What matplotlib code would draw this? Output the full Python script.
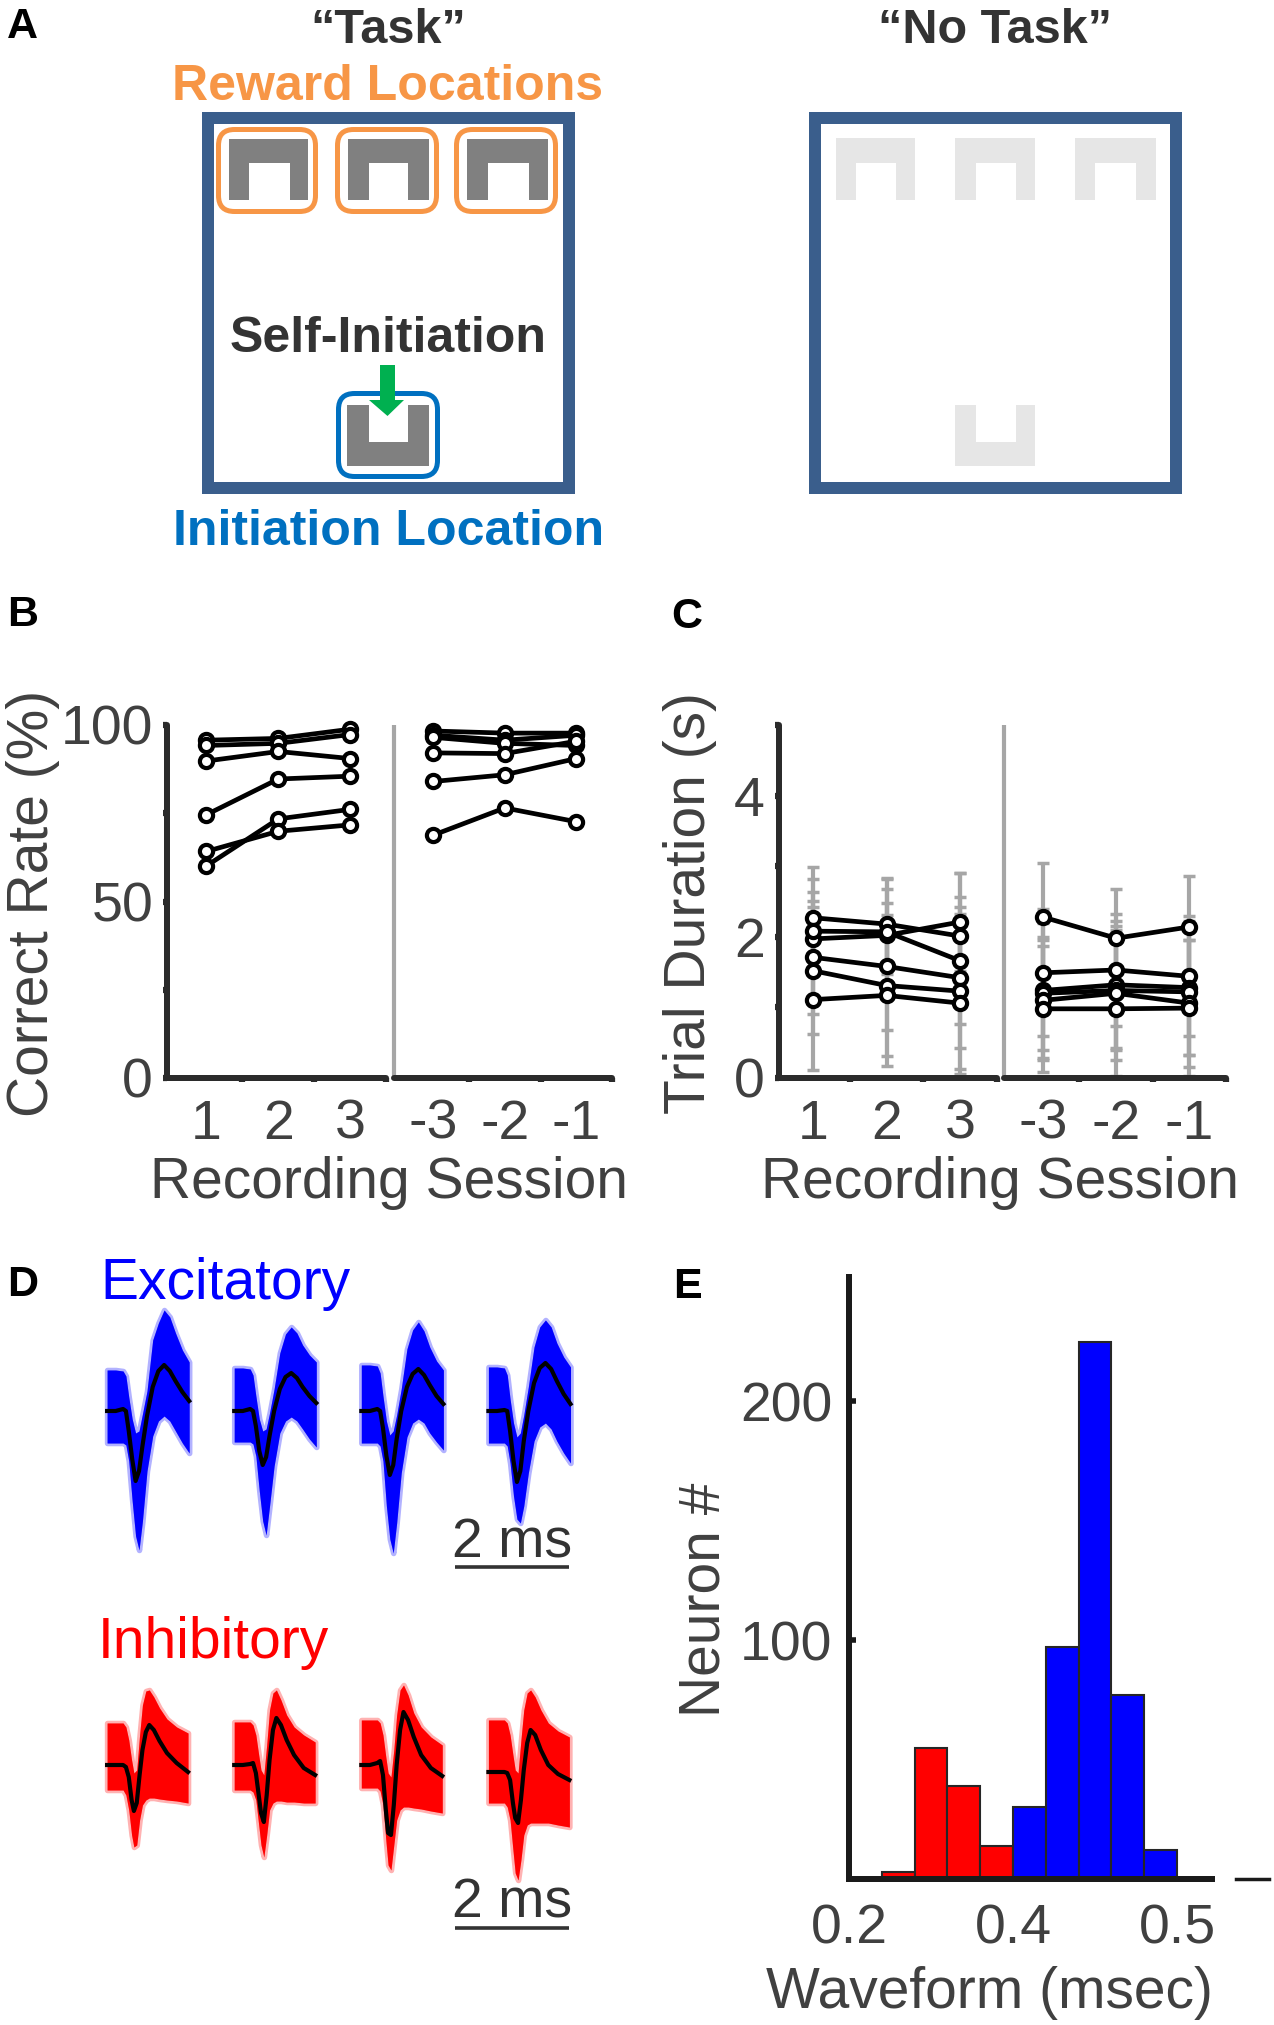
import numpy as np
import matplotlib
matplotlib.use('Agg')
from matplotlib import pyplot as plt
from matplotlib.patches import Polygon, FancyBboxPatch, Rectangle

plt.rcParams['font.family'] = ['Liberation Sans', 'DejaVu Sans']

W, H = 1274, 2025
PT = 0.72  # points per pixel at dpi=100

# ---------------- data ----------------
# B: correct rate (%), first three and last three recording sessions
sess_first = [1, 2, 3]
sess_last = [-3, -2, -1]
rate_first = [[95.7, 96.2, 98.8],
              [94.2, 94.8, 97.3],
              [89.8, 92.5, 90.5],
              [74.6, 84.7, 85.5],
              [60.1, 73.4, 76.1],
              [64.2, 69.9, 71.7]]
rate_last = [[98.3, 97.7, 97.7],
             [97.1, 95.7, 97.1],
             [96.5, 94.8, 94.2],
             [92.1, 91.9, 95.4],
             [84.0, 85.9, 90.5],
             [68.8, 76.5, 72.6]]

# C: trial duration (s), mean and sd
dur_first = [[2.27, 2.18, 2.01],
             [1.97, 2.02, 2.21],
             [2.08, 2.07, 1.66],
             [1.71, 1.58, 1.42],
             [1.52, 1.31, 1.23],
             [1.11, 1.17, 1.06]]
dur_first_sd = [[0.72, 0.65, 0.90],
                [0.85, 0.80, 0.70],
                [0.55, 0.60, 0.90],
                [0.80, 0.90, 1.00],
                [0.90, 1.00, 1.10],
                [0.99, 1.00, 1.00]]
dur_last = [[2.28, 1.98, 2.14],
            [1.49, 1.53, 1.44],
            [1.24, 1.32, 1.28],
            [1.20, 1.24, 1.22],
            [1.10, 1.20, 1.06],
            [0.98, 0.98, 0.99]]
dur_last_sd = [[0.76, 0.70, 0.72],
               [0.90, 0.80, 0.85],
               [0.95, 0.90, 0.95],
               [0.80, 0.85, 0.90],
               [0.85, 0.95, 0.90],
               [0.89, 0.95, 0.96]]

# D: example waveforms (ms, uV) - mean trace and spread of single spikes
exc_t = [0, 0.15, 0.28, 0.33, 0.38, 0.44, 0.50, 0.56, 0.62, 0.70, 0.80, 0.90, 1.00, 1.10, 1.20, 1.32, 1.44]
exc_mean = [[0, 0, 2, 0, -20, -48, -70, -60, -35, -5, 24, 40, 46, 40, 30, 19, 10],
            [0, 0, 2, 0, -15, -40, -54, -46, -25, 0, 22, 34, 38, 33, 24, 15, 8],
            [0, 0, 2, 0, -17, -45, -64, -54, -28, 0, 24, 37, 42, 36, 26, 15, 7],
            [0, 0, 1, 0, -20, -50, -71, -60, -30, 0, 28, 43, 48, 42, 30, 17, 7]]
exc_top = [[41, 41, 40, 35, 14, -8, -22, -20, -3, 20, 71, 88, 101, 94, 78, 61, 49],
           [43, 43, 42, 36, 15, -8, -20, -18, -2, 22, 58, 77, 84, 78, 66, 56, 49],
           [46, 46, 45, 38, 15, -10, -24, -20, -4, 22, 62, 81, 89, 80, 64, 50, 41],
           [44, 44, 43, 36, 12, -12, -26, -22, -4, 24, 64, 84, 91, 84, 68, 54, 44]]
exc_bot = [[-32, -32, -32, -34, -50, -90, -125, -139, -110, -60, -25, -10, -5, -10, -20, -32, -42],
           [-31, -31, -31, -33, -45, -80, -110, -124, -95, -55, -22, -10, -6, -10, -18, -28, -36],
           [-32, -32, -32, -35, -50, -95, -128, -142, -112, -62, -26, -12, -8, -12, -22, -31, -39],
           [-32, -32, -32, -35, -52, -85, -108, -112, -95, -62, -30, -16, -12, -18, -30, -42, -52]]

inh_t = [0, 0.15, 0.28, 0.33, 0.38, 0.43, 0.47, 0.52, 0.57, 0.62, 0.68, 0.74, 0.82, 0.92, 1.05, 1.22, 1.42]
inh_mean = [[0, 0, 0, -2, -12, -35, -46, -38, -10, 15, 33, 40, 35, 24, 12, 2, -7],
            [0, 0, 1, 2, -8, -30, -48, -57, -30, 5, 35, 47, 40, 25, 10, -3, -10],
            [0, 0, 2, 4, -10, -45, -68, -70, -40, 0, 35, 53, 45, 28, 10, -3, -11],
            [-7, -7, -7, -8, -15, -38, -53, -58, -35, -5, 22, 35, 30, 15, 0, -9, -15]]
inh_top = [[42, 42, 42, 38, 25, 5, -8, -5, 30, 60, 74, 75, 68, 57, 46, 38, 32],
           [43, 43, 43, 40, 30, 10, -5, -10, 20, 55, 72, 75, 65, 50, 38, 30, 23],
           [45, 45, 45, 42, 30, 8, -8, -12, 15, 50, 75, 80, 70, 52, 38, 28, 20],
           [45, 45, 45, 42, 30, 10, -5, -8, 25, 55, 72, 75, 68, 55, 42, 34, 28]]
inh_bot = [[-25, -25, -25, -30, -45, -70, -82, -80, -55, -40, -35, -33, -33, -34, -35, -36, -38],
           [-25, -25, -25, -27, -35, -60, -80, -92, -70, -45, -38, -36, -36, -37, -37, -38, -38],
           [-23, -23, -23, -26, -40, -75, -100, -105, -80, -55, -45, -42, -42, -43, -44, -46, -48],
           [-38, -38, -38, -42, -55, -85, -108, -115, -95, -70, -60, -58, -58, -58, -58, -60, -62]]

# E: waveform width histogram
bin_left = [0.32, 0.34, 0.36, 0.38, 0.40, 0.42, 0.44, 0.46, 0.48]
bin_count = [3, 55, 39, 14, 30, 97, 225, 77, 12]
bin_type = ['inh', 'inh', 'inh', 'inh', 'exc', 'exc', 'exc', 'exc', 'exc']
e_ticks = [0.30, 0.40, 0.50]
e_ticklabels = ['0.2', '0.4', '0.5']

# ---------------- figure ----------------
fig = plt.figure(figsize=(W / 100, H / 100), dpi=100)


def px_axes(left, top, right, bottom):
    return fig.add_axes([left / W, 1 - bottom / H, (right - left) / W, (bottom - top) / H])


def ftext(x, y, s, **kw):
    return fig.text(x / W, 1 - y / H, s, **kw)


DARK = '#2B2B2B'
LABEL = '#404040'
ORANGE = '#F79646'
BLUE_A = '#0070C0'
ARENA = '#3A5E8C'

# ---------- A: schematic ----------
ax_a = px_axes(0, 0, W, 560)
ax_a.set_xlim(0, W)
ax_a.set_ylim(560, 0)
ax_a.axis('off')


def port_n(x0, x1, xi0, xi1, y0, y1, yi):
    return [(x0, y1), (x0, y0), (x1, y0), (x1, y1), (xi1, y1), (xi1, yi), (xi0, yi), (xi0, y1)]


def port_u(x0, x1, xi0, xi1, y0, y1, yi):
    return [(x0, y0), (x0, y1), (x1, y1), (x1, y0), (xi1, y0), (xi1, yi), (xi0, yi), (xi0, y0)]


for left in (208, 815):
    ax_a.add_patch(Rectangle((left, 118), 361, 370, fill=False, ec=ARENA, lw=12 * PT))

task_ports = [(229, 308, 249, 290), (348, 429, 369, 408), (467, 548, 488, 529)]
free_ports = [(836, 915, 856, 896), (955, 1035, 976, 1016), (1075, 1156, 1095, 1136)]
for p in task_ports:
    ax_a.add_patch(Polygon(port_n(*p, 139, 200, 162.5), closed=True, fc='#808080', ec='none'))
    ax_a.add_patch(FancyBboxPatch((p[0] - 10.5, 129.5), p[1] - p[0] + 18, 82,
                                  boxstyle='round,pad=0,rounding_size=16',
                                  fill=False, ec=ORANGE, lw=5 * PT))
for p in free_ports:
    ax_a.add_patch(Polygon(port_n(*p, 138, 200, 162.5), closed=True, fc='#E6E6E6', ec='none'))

ax_a.add_patch(Polygon(port_u(347, 429, 369, 408, 405, 466, 442), closed=True, fc='#808080', ec='none'))
ax_a.add_patch(FancyBboxPatch((338.5, 393.5), 99, 83, boxstyle='round,pad=0,rounding_size=16',
                              fill=False, ec=BLUE_A, lw=5 * PT))
ax_a.add_patch(Polygon(port_u(955, 1035, 976, 1016, 405, 466, 442), closed=True, fc='#E6E6E6', ec='none'))
ax_a.add_patch(Polygon([(380, 365), (395, 365), (395, 400), (404, 400), (387.5, 416),
                        (369, 400), (380, 400)], closed=True, fc='#00B050', ec='none'))

bold = dict(fontweight='bold', ha='center', va='baseline')
ax_a.text(388, 43, '\u201cTask\u201d', fontsize=35, color='#333333', **bold)
ax_a.text(995, 43, '\u201cNo Task\u201d', fontsize=35, color='#333333', **bold)
ax_a.text(388, 100, 'Reward Locations', fontsize=36, color=ORANGE, **bold)
ax_a.text(388, 352, 'Self-Initiation', fontsize=36, color='#333333', **bold)
ax_a.text(389, 545, 'Initiation Location', fontsize=36, color=BLUE_A, **bold)

# panel letters
for x, y, s in [(7, 38, 'A'), (7, 626, 'B'), (671, 628, 'C'), (7, 1296, 'D'), (673, 1298, 'E')]:
    ftext(x, y, s, fontsize=31, fontweight='bold', ha='left', va='baseline', color='black')


# ---------- B & C ----------
def session_axes(box, xlim, ylim, xticks, xminor, yticks, yminor, first):
    ax = px_axes(*box)
    ax.set_xlim(*xlim)
    ax.set_ylim(*ylim)
    ax.spines['top'].set_visible(False)
    ax.spines['right'].set_visible(False)
    for sp in ('left', 'bottom'):
        ax.spines[sp].set_linewidth(6 * PT)
        ax.spines[sp].set_color(DARK)
        ax.spines[sp].set_capstyle('round')
    ax.set_xticks(xticks)
    ax.set_xticklabels([str(v) for v in xticks])
    ax.set_xticks(xminor, minor=True)
    ax.tick_params(axis='x', which='major', length=0, pad=15, labelsize=40, labelcolor=LABEL)
    ax.tick_params(axis='x', which='minor', length=3, width=4.5, direction='out', color=DARK)
    if first:
        ax.set_yticks(yticks)
        ax.set_yticklabels([str(v) for v in yticks])
        ax.set_yticks(yminor, minor=True)
        ax.tick_params(axis='y', which='both', length=3, width=4.5, direction='out', color=DARK,
                       pad=7, labelsize=40, labelcolor=LABEL)
    else:
        ax.spines['left'].set_color('#A6A6A6')
        ax.spines['left'].set_linewidth(3)
        ax.spines['left'].set_capstyle('butt')
        ax.set_yticks([])
    return ax


line_kw = dict(color='black', lw=3.4, marker='o', ms=9.5, mfc='white', mec='black', mew=3,
               clip_on=False, zorder=3)

ax_b1 = session_axes((167, 725, 386, 1078), (0.45, 3.5), (0, 100), sess_first, [1.5, 2.5, 3.5],
                     [0, 50, 100], [25, 75], True)
ax_b2 = session_axes((394, 725, 612, 1078), (-3.55, -0.5), (0, 100), sess_last, [-2.5, -1.5, -0.5],
                     None, None, False)
for row in rate_first:
    ax_b1.plot(sess_first, row, **line_kw)
for row in rate_last:
    ax_b2.plot(sess_last, row, **line_kw)

ax_c1 = session_axes((779, 725, 997, 1078), (0.54, 3.5), (0, 5), sess_first, [1.5, 2.5, 3.5],
                     [0, 2, 4], [1, 3, 5], True)
ax_c2 = session_axes((1004, 725, 1226, 1078), (-3.53, -0.5), (0, 5), sess_last, [-2.5, -1.5, -0.5],
                     None, None, False)
err_kw = dict(fmt='none', ecolor='#A6A6A6', elinewidth=3, capsize=4, capthick=2.5, zorder=1)
for row, sd in zip(dur_first, dur_first_sd):
    ax_c1.errorbar(sess_first, row, yerr=sd, **err_kw)
for row, sd in zip(dur_last, dur_last_sd):
    ax_c2.errorbar(sess_last, row, yerr=sd, **err_kw)
for row in dur_first:
    ax_c1.plot(sess_first, row, **line_kw)
for row in dur_last:
    ax_c2.plot(sess_last, row, **line_kw)

lab_kw = dict(fontsize=41, color=LABEL)
ftext(33, 903, 'Correct Rate (%)', rotation=90, ha='center', va='center', **lab_kw)
ftext(690, 903, 'Trial Duration (s)', rotation=90, ha='center', va='center', **lab_kw)
ftext(389, 1198, 'Recording Session', ha='center', va='baseline', **lab_kw)
ftext(1000, 1198, 'Recording Session', ha='center', va='baseline', **lab_kw)

# ---------- D: waveforms ----------
ax_d = px_axes(90, 1290, 600, 1960)
ax_d.set_xlim(0, 510 / 57)
ax_d.set_ylim(1411 - 1960, 1411 - 1290)
ax_d.axis('off')
wave_x0 = [0.30, 2.53, 4.76, 6.99]
inh_y0 = -354


def draw_wave(t, mean, top, bot, x0, y0, color):
    x = np.asarray(t) + x0
    top = np.asarray(top) + y0
    bot = np.asarray(bot) + y0
    ax_d.fill_between(x, bot, top, color=color, lw=4, alpha=0.3)
    ax_d.fill_between(x, bot, top, color=color, lw=0)
    ax_d.plot(x, np.asarray(mean) + y0, color='black', lw=3, solid_joinstyle='round')


for i in range(4):
    draw_wave(exc_t, exc_mean[i], exc_top[i], exc_bot[i], wave_x0[i], 0, '#0000FF')
    draw_wave(inh_t, inh_mean[i], inh_top[i], inh_bot[i], wave_x0[i], inh_y0, '#FF0000')

for ybar in (-156, inh_y0 - 163):
    ax_d.plot([6.4, 8.4], [ybar, ybar], color='#333333', lw=2.6, solid_capstyle='butt')
    ax_d.text(7.4, ybar + 10, '2 ms', ha='center', va='baseline', fontsize=40, color='#333333')

ftext(100, 1299, 'Excitatory', color='#0000FF', fontsize=41, ha='left', va='baseline')
ftext(98, 1658, 'Inhibitory', color='#FF0000', fontsize=41, ha='left', va='baseline')

# ---------- E: histogram ----------
ax_e = px_axes(849, 1277, 1212, 1879)
ax_e.set_xlim(0.30, 0.5213)
ax_e.set_ylim(0, 252)
type_color = {'inh': '#FF0000', 'exc': '#0000FF'}
ax_e.bar(bin_left, bin_count, width=0.02, align='edge',
         color=[type_color[c] for c in bin_type], edgecolor='#262626', linewidth=1.5, zorder=2)
ax_e.spines['top'].set_visible(False)
ax_e.spines['right'].set_visible(False)
for sp in ('left', 'bottom'):
    ax_e.spines[sp].set_linewidth(6 * PT)
    ax_e.spines[sp].set_color('#1A1A1A')
    ax_e.spines[sp].set_zorder(3)
ax_e.set_yticks([100, 200])
ax_e.set_yticklabels(['100', '200'])
ax_e.tick_params(axis='y', direction='in', length=5, width=4, color='#1A1A1A', pad=12,
                 labelsize=40, labelcolor=LABEL)
ax_e.set_xticks(e_ticks)
ax_e.set_xticklabels(e_ticklabels)
ax_e.tick_params(axis='x', length=0, pad=18, labelsize=40, labelcolor=LABEL)
ax_e.plot([0.536, 0.556], [0, 0], color='#1A1A1A', lw=2.5, clip_on=False)

ftext(705, 1600, 'Neuron #', rotation=90, ha='center', va='center', **lab_kw)
ftext(989, 2008, 'Waveform (msec)', ha='center', va='baseline', **lab_kw)

fig.savefig('out.png', dpi=100)
